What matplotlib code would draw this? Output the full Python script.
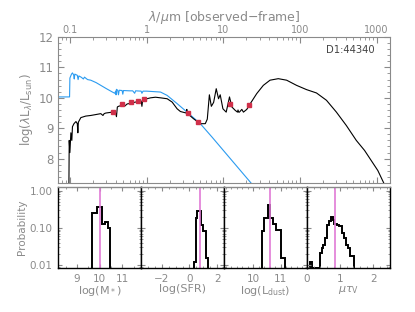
import numpy as np
import matplotlib.pyplot as plt
from matplotlib.ticker import LogLocator, NullFormatter, MultipleLocator

# best-fit SED, observed-frame wavelength (micron) vs log(lambda L_lambda / Lsun)
wl_total = [0.097, 0.098, 0.100, 0.103, 0.106, 0.108, 0.113, 0.120, 0.125, 0.127,
            0.129, 0.139, 0.161, 0.187, 0.218, 0.253, 0.270, 0.280, 0.294, 0.359,
            0.380, 0.395, 0.405, 0.416, 0.430, 0.483, 0.520, 0.560, 0.620, 0.660,
            0.780, 0.850, 0.870, 0.890, 0.942, 1.127, 1.309, 1.520, 1.857, 2.157,
            2.504, 2.764, 3.300, 3.350, 3.400, 4.113, 5.026, 5.838, 6.200, 6.600,
            7.000, 7.500, 8.110, 8.690, 9.140, 9.910, 10.94, 12.08, 12.97, 14.32,
            15.34, 15.60, 15.90, 16.28, 17.49, 18.36, 20.31, 22.43, 27.39, 33.37,
            40.80, 52.30, 67.20, 90.60, 122.2, 164.8, 222.2, 299.7, 403.9, 544.9,
            698.4, 1040., 1270.]
lum_total = [7.00, 8.60, 8.20, 8.85, 8.60, 9.05, 9.15, 9.22, 9.15, 8.85,
             9.20, 9.35, 9.40, 9.42, 9.45, 9.48, 9.42, 9.48, 9.50, 9.53,
             9.55, 9.50, 9.38, 9.70, 9.72, 9.76, 9.73, 9.80, 9.82, 9.84,
             9.88, 9.90, 9.72, 9.92, 9.95, 10.00, 10.02, 10.00, 9.97, 9.86,
             9.64, 9.55, 9.50, 9.62, 9.49, 9.31, 9.15, 9.15, 9.30, 10.10,
             9.72, 9.85, 10.30, 9.97, 10.10, 9.64, 9.53, 10.03, 9.70, 9.59,
             9.53, 9.60, 9.53, 9.53, 9.62, 9.53, 9.62, 9.80, 10.14, 10.41,
             10.58, 10.63, 10.58, 10.41, 10.27, 10.16, 9.92, 9.53, 9.09, 8.60,
             8.27, 7.61, 7.15]

# unattenuated stellar spectrum
wl_stellar = [0.070, 0.099, 0.100, 0.105, 0.108, 0.112, 0.114, 0.116, 0.125, 0.128,
              0.131, 0.140, 0.150, 0.155, 0.170, 0.187, 0.220, 0.253, 0.300, 0.359,
              0.385, 0.395, 0.400, 0.405, 0.420, 0.430, 0.440, 0.480, 0.490, 0.500,
              0.600, 0.660, 0.700, 0.720, 0.850, 0.870, 0.900, 1.000, 1.520, 1.857,
              2.504, 3.378, 5.026, 7.200, 12.20, 23.60, 30.00]
lum_stellar = [10.03, 10.03, 10.65, 10.78, 10.82, 10.75, 10.62, 10.78, 10.74, 10.60,
               10.72, 10.68, 10.62, 10.68, 10.60, 10.58, 10.50, 10.41, 10.30, 10.19,
               10.15, 10.22, 10.10, 10.28, 10.25, 10.10, 10.25, 10.24, 10.12, 10.24,
               10.23, 10.23, 10.15, 10.23, 10.22, 10.15, 10.22, 10.22, 10.19, 10.08,
               9.81, 9.53, 9.15, 8.70, 8.02, 7.17, 6.80]

# photometry
wl_obs = [0.36, 0.48, 0.63, 0.78, 0.94, 3.46, 4.69, 12.2, 22.0]
lum_obs = [9.53, 9.79, 9.85, 9.91, 9.95, 9.50, 9.22, 9.80, 9.78]

# marginal likelihood distributions
mstar_edges = [9.66, 9.88, 10.10, 10.25, 10.35, 10.47]
mstar_prob = [0.25, 0.37, 0.13, 0.14, 0.10]
sfr_edges = [0.34, 0.46, 0.58, 0.83, 0.99, 1.23, 1.32]
sfr_prob = [0.012, 0.18, 0.28, 0.12, 0.08, 0.015]
ldust_edges = [10.31, 10.41, 10.53, 10.63, 10.72, 10.84, 11.03, 11.17]
ldust_prob = [0.08, 0.18, 0.41, 0.18, 0.13, 0.085, 0.015]
tau_edges = [0.08, 0.16, 0.39, 0.44, 0.49, 0.54, 0.59, 0.66, 0.71, 0.77, 0.82,
             0.89, 0.96, 1.04, 1.11, 1.16, 1.23, 1.30, 1.43]
tau_prob = [0.012, 0.0083, 0.021, 0.028, 0.035, 0.052, 0.12, 0.15, 0.20, 0.16,
            0.13, 0.12, 0.11, 0.071, 0.052, 0.035, 0.028, 0.017]

best = [10.02, 0.75, 10.63, 0.83]

grey = '#8a8a8a'
plt.rcParams['font.family'] = 'DejaVu Sans'

fig = plt.figure(figsize=(4.15, 3.12), dpi=100)

# ---- SED panel
ax = fig.add_axes([0.1398, 0.4135, 0.80, 0.4679])
ax.plot(wl_stellar, lum_stellar, color='#2b9bf0', lw=0.8)
ax.plot(wl_total, lum_total, color='black', lw=0.8)
ax.plot(wl_obs, lum_obs, 's', color='#d0304a', ms=3.2, mec='#d0304a')
ax.set_xscale('log')
ax.set_xlim(0.07, 1500)
ax.set_ylim(7.2, 12.0)
ax.set_xticks([0.1, 1, 10, 100, 1000])
ax.set_xticklabels(['0.1', '1', '10', '100', '1000'])
ax.xaxis.set_minor_locator(LogLocator(base=10, subs=np.arange(2, 10)))
ax.xaxis.set_minor_formatter(NullFormatter())
ax.set_yticks([8, 9, 10, 11, 12])
ax.yaxis.set_minor_locator(MultipleLocator(0.2))
ax.tick_params(axis='x', which='both', direction='in', top=True, bottom=True,
               labeltop=True, labelbottom=False, colors=grey, labelsize=7, pad=1.5)
ax.tick_params(axis='y', which='both', direction='in', left=True, right=True,
               colors=grey, labelsize=8.5, pad=3)
ax.tick_params(which='major', length=4)
ax.tick_params(which='minor', length=2)
ax.xaxis.set_label_position('top')
ax.set_xlabel(r'$\lambda/\mu$m [observed$-$frame]', color=grey, fontsize=9, labelpad=3)
ax.set_ylabel(r'log($\lambda$L$_\lambda$/L$_{\rm sun}$)', color=grey, fontsize=8.5, labelpad=3)
for s in ax.spines.values():
    s.set_color(grey)
ax.text(0.955, 0.91, 'D1:44340', transform=ax.transAxes, ha='right', va='center',
        fontsize=7.2, color='#444444')

# ---- PDF panels
panels = [
    (mstar_edges, mstar_prob, (8.17, 11.82), [9, 10, 11], ['9', '10', '11'], r'log(M$_*$)', 0.5),
    (sfr_edges, sfr_prob, (-3.5, 2.5), [-2, 0, 2], ['\u22122', '0', '2'], 'log(SFR)', 0.5),
    (ldust_edges, ldust_prob, (8.93, 11.97), [10, 11], ['10', '11'], r'log(L$_{\rm dust}$)', 0.2),
    (tau_edges, tau_prob, (0.0, 2.5), [0, 1, 2], ['0', '1', '2'], r'$\mu\tau_{\rm V}$', 0.2),
]
ylo, yhi = 0.0083, 1.25
for i, (edges, prob, xr, ticks, tlabels, label, minor) in enumerate(panels):
    bx = fig.add_axes([0.1398 + i * 0.2, 0.141, 0.2, 0.2596])
    bx.stairs(prob, edges, baseline=ylo, color='black', lw=1.4)
    bx.axvline(best[i], color='#e07ad6', lw=1.2)
    bx.set_yscale('log')
    bx.set_ylim(ylo, yhi)
    bx.set_xlim(*xr)
    bx.set_xticks(ticks)
    bx.set_xticklabels(tlabels)
    bx.xaxis.set_minor_locator(MultipleLocator(minor))
    bx.set_yticks([0.01, 0.1, 1.0])
    bx.yaxis.set_minor_locator(LogLocator(base=10, subs=np.arange(2, 10)))
    bx.yaxis.set_minor_formatter(NullFormatter())
    if i == 0:
        bx.set_yticklabels(['0.01', '0.10', '1.00'])
        bx.set_ylabel('Probability', color=grey, fontsize=7.5, labelpad=2)
    else:
        bx.set_yticklabels([])
    bx.tick_params(which='both', direction='in', top=True, right=True,
                   colors=grey, labelsize=7.5, pad=4)
    bx.tick_params(which='major', length=3)
    bx.tick_params(which='minor', length=1.5)
    bx.set_xlabel(label, color=grey, fontsize=8, labelpad=0)
    for name, s in bx.spines.items():
        s.set_color(grey if name == 'top' else 'black')
        s.set_linewidth(1.0)

fig.savefig('out.png', dpi=100)
